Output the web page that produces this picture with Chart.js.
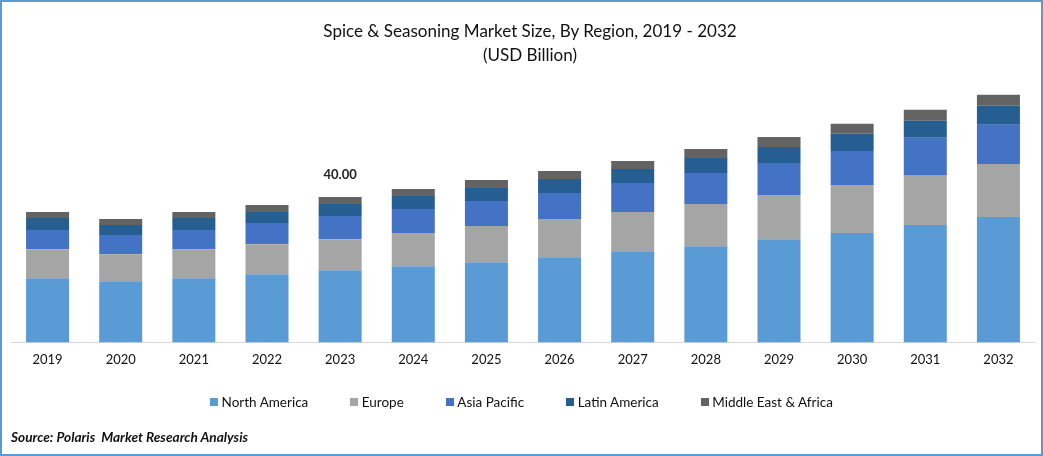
<!DOCTYPE html>
<html>
<head>
<meta charset="utf-8">
<title>Spice & Seasoning Market Size</title>
<script src="https://cdn.jsdelivr.net/npm/chart.js@4/dist/chart.umd.min.js"></script>
<style>
    html, body { margin: 0; padding: 0; background: #fff; }
    #frame { position: relative; width: 1043px; height: 456px; overflow: hidden; background: #fff; }
    #border { position: absolute; left: 0; top: 0; width: 1043px; height: 456px; box-sizing: border-box; border: 2px solid #5b9bd5; pointer-events: none; }
    canvas { position: absolute; left: 0; top: 0; }
    #title { position: absolute; left: 230px; width: 600px; top: 19px; text-align: center; font: 17.05px/24px Lato, sans-serif; color: #111; }
    #legend { position: absolute; left: 0; width: 1043px; top: 394px; display: flex; justify-content: center; gap: 42px; font: 13.5px/16px Lato, sans-serif; color: #111; }
    #legend span { display: flex; align-items: center; gap: 3.5px; white-space: nowrap; }
    #legend i { display: block; width: 8px; height: 8px; }
    #source { position: absolute; left: 11px; top: 429px; font: italic bold 13.65px/16px Lato, sans-serif; color: #111; white-space: pre; }
</style>
</head>
<body>
<div id="frame">
    <canvas id="chart" width="1043" height="456"></canvas>
    <div id="title">Spice &amp; Seasoning Market Size, By Region, 2019 - 2032<br>(USD Billion)</div>
    <div id="legend"></div>
    <div id="source">Source: Polaris  Market Research Analysis</div>
    <div id="border"></div>
</div>
<script>
// --- Data ---
const years = ['2019', '2020', '2021', '2022', '2023', '2024', '2025', '2026', '2027', '2028', '2029', '2030', '2031', '2032'];
const northAmerica = [17.66, 16.83, 17.66, 18.76, 19.86, 20.97, 22.07, 23.45, 25.10, 26.48, 28.41, 30.07, 32.28, 34.48];
const europe = [8.00, 7.45, 8.00, 8.28, 8.55, 9.10, 9.93, 10.48, 10.76, 11.59, 12.14, 13.24, 13.79, 14.62];
const asiaPacific = [5.24, 5.24, 5.24, 5.79, 6.34, 6.62, 6.90, 7.17, 8.00, 8.55, 8.83, 9.38, 10.21, 10.76];
const latinAmerica = [3.31, 2.76, 3.31, 3.03, 3.31, 3.59, 3.59, 3.86, 3.86, 4.14, 4.41, 4.69, 4.69, 5.24];
const middleEastAfrica = [1.66, 1.66, 1.66, 1.93, 1.93, 1.93, 2.21, 2.21, 2.21, 2.48, 2.76, 2.76, 3.03, 3.03];
const regionNames = ['North America', 'Europe', 'Asia Pacific', 'Latin America', 'Middle East & Africa'];
const regionColors = ['#5b9bd5', '#a5a5a5', '#4472c4', '#255e91', '#636363'];
const calloutYear = '2023';
const calloutText = '40.00';

const regionValues = [northAmerica, europe, asiaPacific, latinAmerica, middleEastAfrica];

// Bold total above the 2023 stack
const calloutPlugin = {
    id: 'callout',
    afterDatasetsDraw(chart) {
        const top = chart.getDatasetMeta(regionValues.length - 1).data[years.indexOf(calloutYear)];
        const ctx = chart.ctx;
        ctx.save();
        ctx.font = 'bold 13px Lato, sans-serif';
        ctx.fillStyle = '#222';
        ctx.textAlign = 'center';
        ctx.textBaseline = 'middle';
        ctx.fillText(calloutText, top.x, top.y - 22);
        ctx.restore();
    }
};

new Chart(document.getElementById('chart'), {
    type: 'bar',
    plugins: [calloutPlugin],
    data: {
        labels: years,
        datasets: regionNames.map((name, i) => ({
            label: name,
            data: regionValues[i],
            backgroundColor: regionColors[i],
            borderWidth: 0,
            categoryPercentage: 1,
            barPercentage: 0.588
        }))
    },
    options: {
        responsive: false,
        animation: false,
        devicePixelRatio: 1,
        layout: { padding: { top: 88, left: 11, right: 8, bottom: 78 } },
        plugins: {
            tooltip: { enabled: false },
            legend: { display: false }
        },
        scales: {
            x: {
                stacked: true,
                grid: { display: false, drawTicks: false },
                border: { color: '#d9d9d9', width: 1 },
                ticks: { color: '#111', padding: 10, maxRotation: 0, font: { family: 'Lato, sans-serif', size: 13 } }
            },
            y: { stacked: true, display: false, min: 0, max: 70 }
        }
    }
});

// Legend sits in the page so its spacing can follow the original
document.getElementById('legend').innerHTML = regionNames.map((name, i) =>
    `<span><i style="background:${regionColors[i]}"></i>${name.replace('&', '&amp;')}</span>`
).join('');
</script>
</body>
</html>
